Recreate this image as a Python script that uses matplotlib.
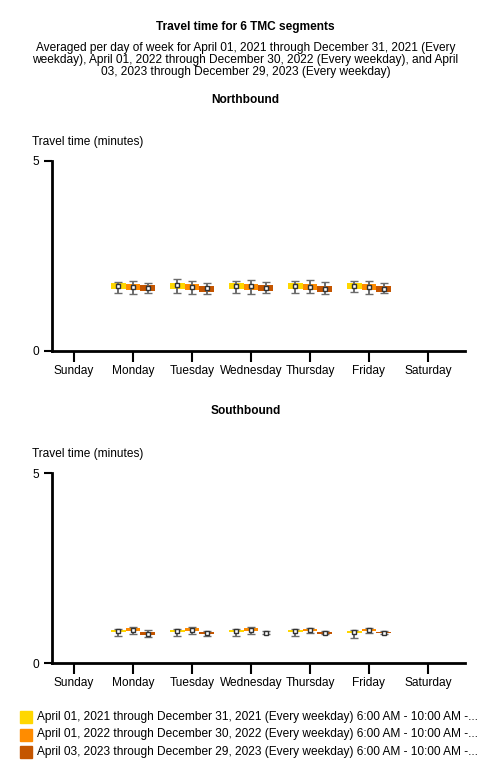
import numpy as np
import matplotlib.pyplot as plt

plt.rcParams["font.family"] = ["Liberation Sans", "DejaVu Sans"]

days = ["Sunday", "Monday", "Tuesday", "Wednesday", "Thursday", "Friday", "Saturday"]
weekdays = [1, 2, 3, 4, 5]  # Monday..Friday

periods = [
    "April 01, 2021 through December 31, 2021 (Every weekday) 6:00 AM - 10:00 AM -...",
    "April 01, 2022 through December 30, 2022 (Every weekday) 6:00 AM - 10:00 AM -...",
    "April 03, 2023 through December 29, 2023 (Every weekday) 6:00 AM - 10:00 AM -...",
]
colors = ["#FFD700", "#FF8C00", "#C45500"]

# Northbound, one list per period, Monday..Friday (minutes)
nb_mid = [[1.71, 1.74, 1.71, 1.72, 1.72],
          [1.68, 1.68, 1.70, 1.68, 1.68],
          [1.66, 1.66, 1.66, 1.63, 1.63]]
nb_q1 = [[1.63, 1.64, 1.63, 1.63, 1.63],
         [1.61, 1.61, 1.61, 1.61, 1.61],
         [1.58, 1.55, 1.58, 1.55, 1.55]]
nb_q3 = [[1.79, 1.80, 1.79, 1.79, 1.79],
         [1.76, 1.76, 1.76, 1.76, 1.76],
         [1.74, 1.71, 1.74, 1.71, 1.71]]
nb_lo = [[1.53, 1.52, 1.53, 1.53, 1.55],
         [1.50, 1.50, 1.49, 1.53, 1.50],
         [1.53, 1.50, 1.53, 1.50, 1.53]]
nb_hi = [[1.82, 1.89, 1.84, 1.84, 1.84],
         [1.84, 1.84, 1.87, 1.87, 1.84],
         [1.79, 1.79, 1.82, 1.82, 1.79]]

# Southbound
sb_mid = [[0.84, 0.84, 0.84, 0.84, 0.82],
          [0.88, 0.87, 0.88, 0.88, 0.87],
          [0.77, 0.79, 0.79, 0.79, 0.80]]
sb_q1 = [[0.82, 0.82, 0.82, 0.82, 0.80],
         [0.84, 0.84, 0.84, 0.85, 0.84],
         [0.74, 0.76, 0.78, 0.77, 0.78]]
sb_q3 = [[0.86, 0.86, 0.86, 0.86, 0.84],
         [0.92, 0.91, 0.91, 0.90, 0.90],
         [0.82, 0.82, 0.80, 0.81, 0.82]]
sb_lo = [[0.71, 0.72, 0.72, 0.72, 0.67],
         [0.76, 0.77, 0.77, 0.79, 0.79],
         [0.68, 0.72, 0.76, 0.76, 0.76]]
sb_hi = [[0.89, 0.90, 0.90, 0.89, 0.87],
         [0.96, 0.95, 0.95, 0.93, 0.93],
         [0.87, 0.85, 0.84, 0.84, 0.85]]

W, H = 491, 765
FS = 8.6
fig = plt.figure(figsize=(W / 100, H / 100), dpi=100)


def fy(py):
    return 1 - py / H


def panel(top, bottom, mid, q1, q3, lo, hi):
    ax = fig.add_axes([52 / W, fy(bottom), (465 - 52) / W, (bottom - top) / H])
    x = np.array(weekdays, dtype=float)
    for i in range(3):
        xi = x + (i - 1) * 0.25
        m = np.array(mid[i])
        a = np.array(q1[i])
        b = np.array(q3[i])
        ax.bar(xi, b - a, bottom=a, width=0.25, color=colors[i], zorder=2)
        ax.errorbar(xi, m, yerr=[m - np.array(lo[i]), np.array(hi[i]) - m],
                    fmt="s", ms=2.6, mfc="white", mec="#333333", mew=1.0,
                    ecolor="#6b6b6b", elinewidth=1.4, capsize=3, capthick=1.4,
                    zorder=3)
    ax.set_xlim(-0.375, 6.63)
    ax.set_ylim(0, 5)
    ax.set_yticks([0, 5])
    ax.set_xticks(range(7))
    ax.set_xticklabels(days)
    for s in ["top", "right"]:
        ax.spines[s].set_visible(False)
    for s in ["left", "bottom"]:
        ax.spines[s].set_linewidth(2)
    ax.tick_params(axis="y", length=6, width=1.5, labelsize=FS, pad=3)
    ax.tick_params(axis="x", length=8, width=1.5, labelsize=FS, pad=2)
    ax.set_facecolor("none")
    return ax


panel(161, 351, nb_mid, nb_q1, nb_q3, nb_lo, nb_hi)
panel(473, 663, sb_mid, sb_q1, sb_q3, sb_lo, sb_hi)

fig.text(0.5, fy(27), "Travel time for 6 TMC segments", ha="center", va="center",
         fontsize=FS, fontweight="bold")
fig.text(0.5, fy(60),
         "Averaged per day of week for April 01, 2021 through December 31, 2021 (Every\n"
         "weekday), April 01, 2022 through December 30, 2022 (Every weekday), and April\n"
         "03, 2023 through December 29, 2023 (Every weekday)",
         ha="center", va="center", fontsize=FS, linespacing=0.97)
fig.text(0.5, fy(100), "Northbound", ha="center", va="center", fontsize=FS, fontweight="bold")
fig.text(0.5, fy(411), "Southbound", ha="center", va="center", fontsize=FS, fontweight="bold")
fig.text(32 / W, fy(142), "Travel time (minutes)", ha="left", va="center", fontsize=FS)
fig.text(32 / W, fy(454), "Travel time (minutes)", ha="left", va="center", fontsize=FS)

for i, label in enumerate(periods):
    y = 717 + i * 17.5
    fig.patches.append(plt.Rectangle((20 / W, fy(y + 6)), 12 / W, 12 / H,
                                     transform=fig.transFigure, color=colors[i]))
    fig.text(37 / W, fy(y), label, ha="left", va="center", fontsize=FS)

fig.savefig("out.png", dpi=100)
